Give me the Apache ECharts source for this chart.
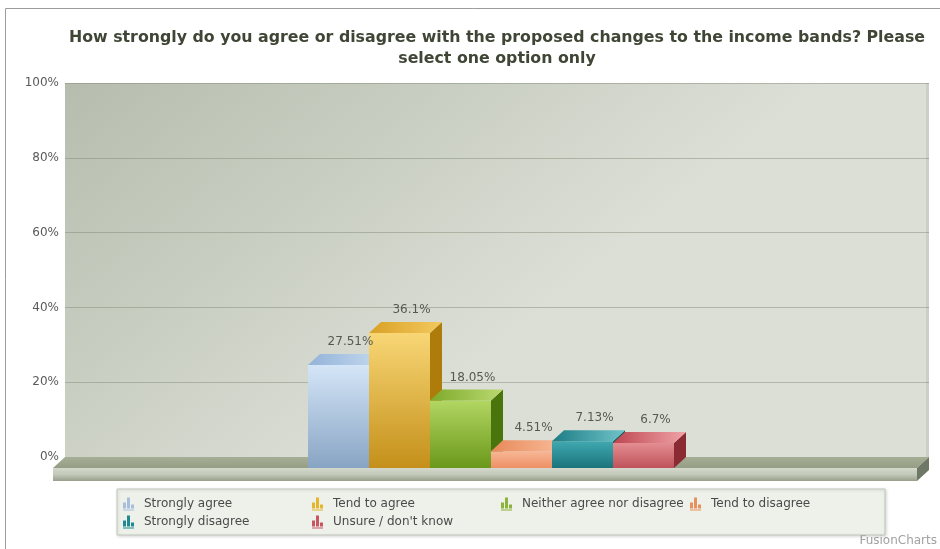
<!DOCTYPE html>
<html>
<head>
<meta charset="utf-8">
<script src="https://cdn.jsdelivr.net/npm/echarts@6/dist/echarts.min.js"></script>
<style>
  html, body { margin: 0; padding: 0; background: #ffffff; }
  #chart { width: 940px; height: 549px; }
</style>
</head>
<body>
<div id="chart"></div>
<script>
// ---- data ----
const titleText = 'How strongly do you agree or disagree with the proposed changes to the income bands? Please\nselect one option only';
const categories = ['Responses'];
const seriesNames = ['Strongly agree', 'Tend to agree', 'Neither agree nor disagree', 'Tend to disagree', 'Strongly disagree', "Unsure / don't know"];
const seriesValues = [27.51, 36.1, 18.05, 4.51, 7.13, 6.7];
const yMin = 0, yMax = 100, yStep = 20;

// ---- palette: [front top, front bottom], [top face left, top face right], side, legend ----
const frontColors = [['#d4e5f7', '#88a4c4'], ['#f8d675', '#c4901a'], ['#b2d662', '#6a981a'], ['#f7b796', '#ee9064'], ['#40a8b0', '#1b747c'], ['#e48e92', '#bf525a']];
const topColors = [['#93b3d8', '#c4d9ef'], ['#d9a126', '#f3c95e'], ['#7eaa2a', '#bad972'], ['#e8895a', '#f8bc9a'], ['#1d7c84', '#70c4ca'], ['#bd4650', '#f0a4a8']];
const sideColors = ['#6d8db3', '#ae7c0a', '#4a740c', '#b05a30', '#135a60', '#8a2a32'];
const legendColors = ['#a7bfdc', '#e6b52e', '#8cb33a', '#e9915c', '#1f8a92', '#c95560'];

// ---- 3D geometry (pixels) ----
const BAR_W = 61, DX = 12, DY = 11, SHIFT_X = 6, FLOOR_H = 13;
const FONT = 'DejaVu Sans';
const LEGEND_ICON = 'path://M0,11 L0,5 L3,5 L3,11 Z M4,11 L4,0 L7,0 L7,11 Z M8,11 L8,7 L11,7 L11,11 Z M0,12 L11,12 L11,13 L0,13 Z';

const grad = echarts.graphic.LinearGradient;

function slotCenter(baseX, slot) {
  return baseX + SHIFT_X + (slot - (seriesNames.length - 1) / 2) * BAR_W;
}

function makeBarRenderer(slot) {
  return function (params, api) {
    const c = api.value(0);
    const v = api.value(1);
    const base = api.coord([c, 0]);
    const top = api.coord([c, v]);
    const cx = slotCenter(base[0], slot);
    const x0 = cx - BAR_W / 2 - DX, x1 = x0 + BAR_W;
    const yTop = top[1] + DY, yBot = base[1] + DY;
    return {
      type: 'group',
      children: [
        {
          type: 'polygon',
          shape: { points: [[x1, yTop], [x1 + DX, yTop - DY], [x1 + DX, yBot - DY], [x1, yBot]] },
          style: { fill: sideColors[slot] }
        },
        {
          type: 'rect',
          shape: { x: x0, y: yTop, width: BAR_W, height: yBot - yTop },
          style: { fill: new grad(0, 0, 0, 1, [
            { offset: 0, color: frontColors[slot][0] },
            { offset: 1, color: frontColors[slot][1] }
          ]) }
        },
        {
          type: 'polygon',
          shape: { points: [[x0, yTop], [x1, yTop], [x1 + DX, yTop - DY], [x0 + DX, yTop - DY]] },
          style: { fill: new grad(0, 0, 1, 0, [
            { offset: 0, color: topColors[slot][0] },
            { offset: 1, color: topColors[slot][1] }
          ]) }
        }
      ]
    };
  };
}

function renderLabels(params, api) {
  const c = api.value(0);
  const v = api.value(1);
  const slot = api.value(2);
  const base = api.coord([c, 0]);
  const top = api.coord([c, v]);
  return {
    type: 'text',
    style: {
      text: v + '%',
      x: slotCenter(base[0], slot),
      y: top[1] - 12,
      align: 'center',
      verticalAlign: 'middle',
      fill: '#555a50',
      font: '12px "' + FONT + '"'
    }
  };
}

function renderFloor(params, api) {
  const cs = params.coordSys;
  const y0 = api.coord([0, 0])[1];
  const L = cs.x, R = cs.x + cs.width;
  return {
    type: 'group',
    children: [
      {
        type: 'rect',
        shape: { x: R - 3, y: cs.y, width: 3, height: y0 - cs.y },
        style: { fill: 'rgba(90,100,80,0.12)' }
      },
      {
        type: 'polygon',
        shape: { points: [[L, y0], [R, y0], [R - DX, y0 + DY], [L - DX, y0 + DY]] },
        style: { fill: new grad(0, 0, 0, 1, [
          { offset: 0, color: '#a6ae96' },
          { offset: 1, color: '#959e84' }
        ]) }
      },
      {
        type: 'rect',
        shape: { x: L - DX, y: y0 + DY, width: R - L, height: FLOOR_H },
        style: { fill: new grad(0, 0, 0, 1, [
          { offset: 0, color: '#d4d9cc' },
          { offset: 0.5, color: '#c2c8b8' },
          { offset: 1, color: '#979f8c' }
        ]) }
      },
      {
        type: 'polygon',
        shape: { points: [[R - DX, y0 + DY], [R, y0], [R, y0 + FLOOR_H], [R - DX, y0 + DY + FLOOR_H]] },
        style: { fill: '#6f7866' }
      }
    ]
  };
}

const series = [{
  type: 'custom',
  name: 'floor',
  silent: true,
  z: 1,
  renderItem: renderFloor,
  data: [[0, 0]]
}];

seriesNames.forEach(function (name, i) {
  series.push({
    type: 'custom',
    name: name,
    z: 2 + i,
    itemStyle: { color: legendColors[i] },
    renderItem: makeBarRenderer(i),
    data: [[0, seriesValues[i]]]
  });
});

series.push({
  type: 'custom',
  name: 'values',
  silent: true,
  z: 20,
  renderItem: renderLabels,
  data: seriesValues.map(function (v, i) { return [0, v, i]; })
});

const chart = echarts.init(document.getElementById('chart'), null, { renderer: 'canvas' });
chart.setOption({
  animation: false,
  backgroundColor: '#ffffff',
  title: {
    text: titleText,
    left: 492,
    top: 22,
    textAlign: 'center',
    textStyle: {
      fontFamily: FONT,
      fontSize: 15.8,
      fontWeight: 'bold',
      color: '#3f4636',
      lineHeight: 21
    }
  },
  grid: {
    left: 65,
    right: 11,
    top: 83,
    bottom: 92,
    show: true,
    borderWidth: 0,
    backgroundColor: new grad(0, 0, 0.35, 1, [
      { offset: 0, color: '#b6bdae' },
      { offset: 1, color: '#dcdfd6' }
    ])
  },
  xAxis: {
    type: 'category',
    data: categories,
    axisLine: { show: false },
    axisTick: { show: false },
    axisLabel: { show: false },
    splitLine: { show: false }
  },
  yAxis: {
    type: 'value',
    min: yMin,
    max: yMax,
    interval: yStep,
    axisLine: { show: false },
    axisTick: { show: false },
    axisLabel: {
      formatter: '{value}%',
      color: '#5a5a5a',
      fontFamily: FONT,
      fontSize: 12,
      margin: 6
    },
    splitLine: { lineStyle: { color: 'rgba(125,135,112,0.45)', width: 1 } }
  },
  legend: {
    data: seriesNames,
    left: 117,
    top: 489,
    orient: 'horizontal',
    width: 760,
    padding: [6, 6, 4, 6],
    itemGap: 0,
    itemWidth: 11,
    itemHeight: 13,
    icon: LEGEND_ICON,
    backgroundColor: '#eef0ea',
    borderColor: '#c3c7bd',
    borderWidth: 1,
    shadowColor: 'rgba(0,0,0,0.15)',
    shadowBlur: 3,
    shadowOffsetX: 1,
    shadowOffsetY: 1,
    selectedMode: false,
    textStyle: {
      fontFamily: FONT,
      fontSize: 12,
      color: '#4a4a4a',
      width: 168,
      lineHeight: 18,
      padding: [0, 0, 0, 5]
    }
  },
  graphic: [
    {
      type: 'rect',
      silent: true,
      shape: { x: 5.5, y: 8.5, width: 960, height: 560 },
      style: { fill: null, stroke: '#9c9c9c', lineWidth: 1 }
    },
    {
      type: 'text',
      right: 3,
      bottom: 2,
      silent: true,
      style: { text: 'FusionCharts', fill: '#a2a2a2', font: '12px "' + FONT + '"' }
    }
  ],
  series: series
});
</script>
</body>
</html>
